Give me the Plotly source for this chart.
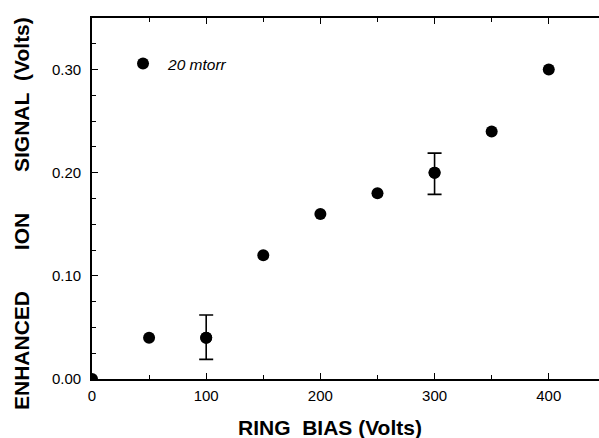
import plotly.graph_objects as go

ring_bias = [0, 50, 100, 150, 200, 250, 300, 350, 400]
ion_signal = [0.0, 0.04, 0.04, 0.12, 0.16, 0.18, 0.20, 0.24, 0.30]
error_plus = [0, 0, 0.022, 0, 0, 0, 0.019, 0, 0]
error_minus = [0, 0, 0.021, 0, 0, 0, 0.021, 0, 0]
series_name = "20 mtorr"

x_ticks = [0, 100, 200, 300, 400]
x_ticklabels = ["0", "100", "200", "300", "400"]
y_ticks = [0, 0.1, 0.2, 0.3]
y_ticklabels = ["0.00", "0.10", "0.20", "0.30"]

nb = "\u00a0"
x_title = "RING" + nb * 2 + "BIAS (Volts)"
y_title = "ENHANCED" + nb * 7 + "ION" + nb * 7 + "SIGNAL" + nb * 2 + "(Volts)"

# points that carry error bars
err_idx = [i for i in range(len(ring_bias)) if error_plus[i] > 0 or error_minus[i] > 0]

fig = go.Figure()
fig.add_trace(go.Scatter(
    x=ring_bias, y=ion_signal, mode="markers", name=series_name,
    marker=dict(color="black", size=12),
    cliponaxis=True,
))
fig.add_trace(go.Scatter(
    x=[ring_bias[i] for i in err_idx], y=[ion_signal[i] for i in err_idx],
    mode="markers", showlegend=False,
    marker=dict(color="black", size=12),
    error_y=dict(type="data", symmetric=False,
                 array=[error_plus[i] for i in err_idx],
                 arrayminus=[error_minus[i] for i in err_idx],
                 color="black", thickness=1.6, width=7),
))

font_tick = dict(family="Liberation Sans, Arial", size=15, color="black")
font_title = dict(family="Liberation Sans, Arial", size=21, color="black", weight="bold")

fig.update_layout(
    width=599, height=438,
    margin=dict(l=92, r=0, t=18, b=59),
    paper_bgcolor="white", plot_bgcolor="white",
    showlegend=True,
    legend=dict(x=0.0513, y=0.920, xanchor="left", yanchor="top", itemwidth=40,
                bgcolor="rgba(0,0,0,0)",
                font=dict(family="Liberation Sans, Arial", size=15.5, color="black", style="italic")),
    xaxis=dict(range=[0, 444], tickmode="array", tickvals=x_ticks, ticktext=x_ticklabels,
               ticks="inside", ticklen=6, tickwidth=1.3, tickcolor="black",
               minor=dict(ticks="inside", dtick=50, tick0=0, ticklen=4, tickcolor="black", tickwidth=1.2),
               showline=True, linecolor="black", linewidth=1.8, mirror="ticks",
               showgrid=False, zeroline=False, tickfont=font_tick, automargin=False,
               ticklabelstandoff=2),
    yaxis=dict(range=[0, 0.35], tickmode="array", tickvals=y_ticks, ticktext=y_ticklabels,
               ticks="inside", ticklen=6, tickwidth=1.3, tickcolor="black",
               minor=dict(ticks="inside", dtick=0.025, tick0=0, ticklen=4, tickcolor="black", tickwidth=1.2),
               showline=True, linecolor="black", linewidth=1.8,
               showgrid=False, zeroline=False, tickfont=font_tick, automargin=False,
               ticklabelstandoff=6),
    annotations=[
        dict(text=x_title, xref="paper", yref="paper", x=(330 - 92) / 507, y=-(427 - 379) / 361,
             xanchor="center", yanchor="middle", showarrow=False, font=font_title),
        dict(text=y_title, xref="paper", yref="paper", x=-(92 - 22) / 507, y=(379 - 214) / 361,
             xanchor="center", yanchor="middle", textangle=-90, showarrow=False, font=font_title),
    ],
)

fig.write_html("out.html", config={"displayModeBar": False},
               post_script="document.body.style.margin='0';document.body.style.overflow='hidden';")
